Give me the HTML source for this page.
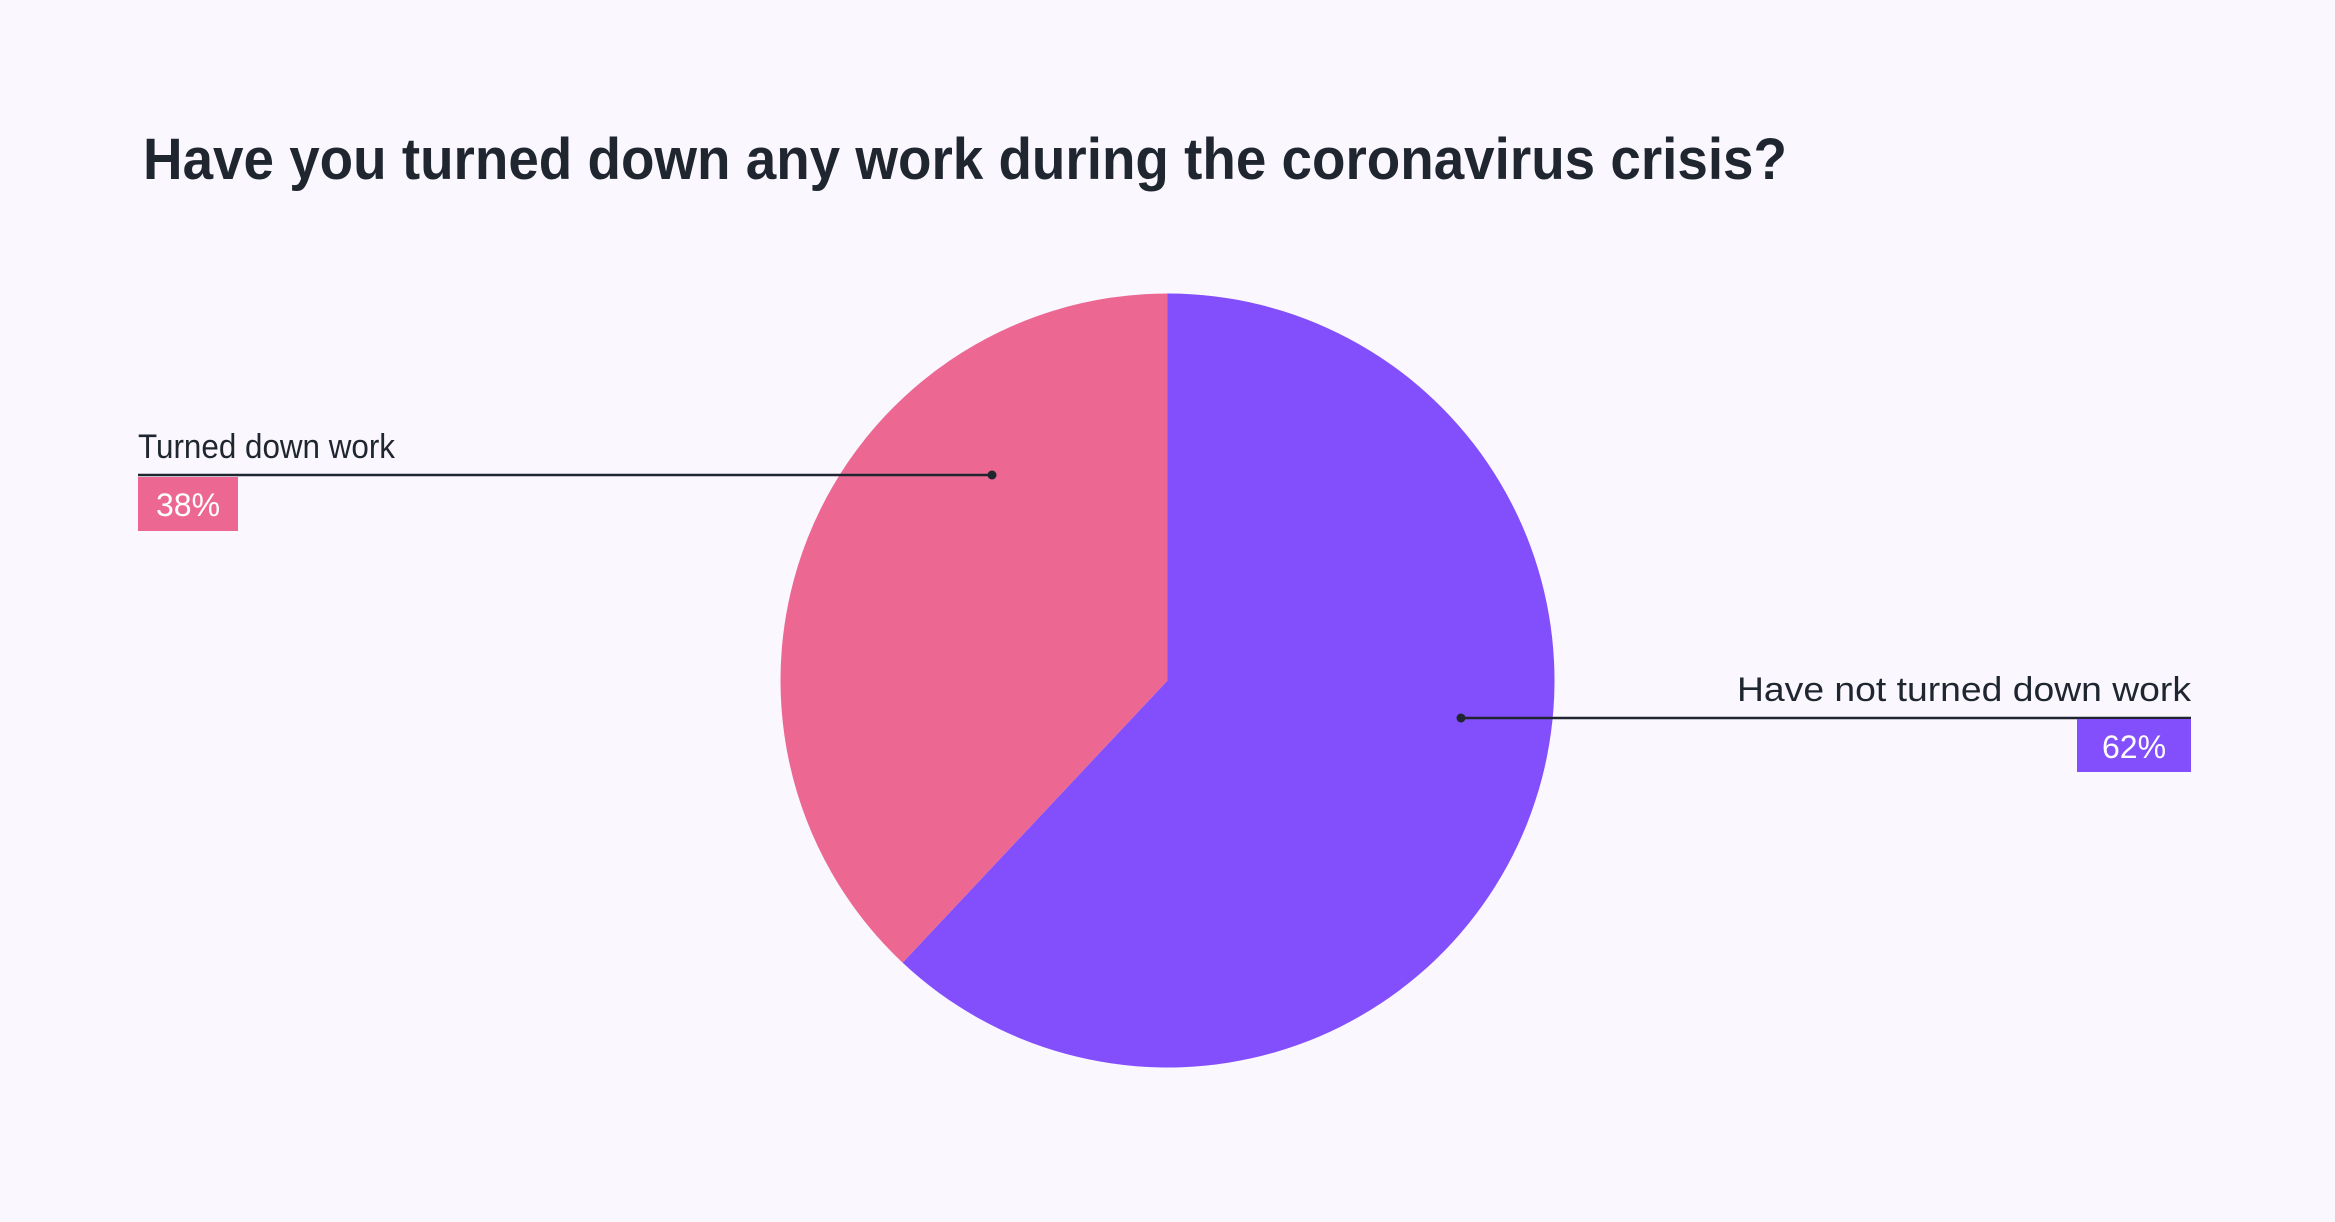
<!DOCTYPE html>
<html><head><meta charset="utf-8"><style>
html,body{margin:0;padding:0;background:#FAF7FE;}
svg{display:block;font-family:"Liberation Sans",sans-serif;}
</style></head><body>
<svg id="chart" width="2335" height="1222" viewBox="0 0 2335 1222">
<rect width="2335" height="1222" fill="#FAF7FE"/>
<text x="143" y="179" font-size="58" font-weight="bold" fill="#1F2630" textLength="1644" lengthAdjust="spacingAndGlyphs">Have you turned down any work during the coronavirus crisis?</text>
<g id="slices"></g>
<g id="labels"></g>
</svg>
<script>
const categories = ["Have not turned down work", "Turned down work"];
const values = [62, 38];
const valueLabels = ["62%", "38%"];
const colors = ["#834FFD", "#EC6893"];

const cx = 1167.5, cy = 680.5, r = 387;
const NS = "http://www.w3.org/2000/svg";
const total = values.reduce((a,b)=>a+b,0);
function angle(v){ return v/total*2*Math.PI; }
function pt(a, rr){ return [cx + rr*Math.sin(a), cy - rr*Math.cos(a)]; }
const sg = document.getElementById('slices');
let start = 0;
values.forEach((v,i)=>{
  const end = start + angle(v);
  const [x0,y0]=pt(start,r), [x1,y1]=pt(end,r);
  const large = end-start > Math.PI ? 1 : 0;
  const p = document.createElementNS(NS,'path');
  p.setAttribute('d',`M${cx},${cy} L${x0},${y0} A${r},${r} 0 ${large} 1 ${x1},${y1} Z`);
  p.setAttribute('fill',colors[i]);
  
  
  sg.appendChild(p);
  start = end;
});

// label layout (positions are styling, not data)
const layouts = [
  {dot:[1461,718], lineEnd:2191, align:'end', textX:2191, textY:701, textLen:454, box:[2077,719,114,53]},
  {dot:[992,475], lineEnd:138, align:'start', textX:138, textY:458, textLen:257, box:[138,477,100,54]}
];
const lg = document.getElementById('labels');
layouts.forEach((L,i)=>{
  const g = document.createElementNS(NS,'g');
  
  
  const ln = document.createElementNS(NS,'line');
  ln.setAttribute('x1',L.dot[0]); ln.setAttribute('y1',L.dot[1]);
  ln.setAttribute('x2',L.lineEnd); ln.setAttribute('y2',L.dot[1]);
  ln.setAttribute('stroke','#1F2630'); ln.setAttribute('stroke-width','2.5');
  
  
  g.appendChild(ln);
  const c = document.createElementNS(NS,'circle');
  c.setAttribute('cx',L.dot[0]); c.setAttribute('cy',L.dot[1]); c.setAttribute('r','4.5');
  c.setAttribute('fill','#1F2630');
  
  
  g.appendChild(c);
  const t = document.createElementNS(NS,'text');
  t.setAttribute('x',L.textX); t.setAttribute('y',L.textY);
  t.setAttribute('text-anchor',L.align); t.setAttribute('font-size','34');
  t.setAttribute('fill','#1F2630');
  t.setAttribute('textLength',L.textLen); t.setAttribute('lengthAdjust','spacingAndGlyphs');
  t.textContent = categories[i];
  
  
  g.appendChild(t);
  const b = document.createElementNS(NS,'rect');
  b.setAttribute('x',L.box[0]); b.setAttribute('y',L.box[1]);
  b.setAttribute('width',L.box[2]); b.setAttribute('height',L.box[3]);
  b.setAttribute('fill',colors[i]);
  
  
  g.appendChild(b);
  const vt = document.createElementNS(NS,'text');
  vt.setAttribute('x',L.box[0]+L.box[2]/2); vt.setAttribute('y',L.box[1]+39);
  vt.setAttribute('text-anchor','middle'); vt.setAttribute('font-size','32');
  vt.setAttribute('fill','#ffffff');
  vt.textContent = valueLabels[i];
  
  
  g.appendChild(vt);
  lg.appendChild(g);
});
</script>
</body></html>
